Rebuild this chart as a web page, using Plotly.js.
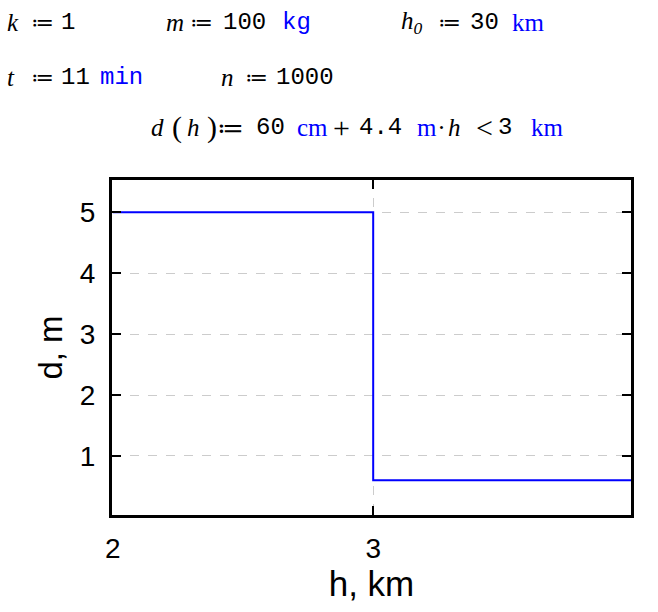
<!DOCTYPE html>
<html>
<head>
<meta charset="utf-8">
<script src="https://cdn.plot.ly/plotly-3.0.1.min.js"></script>
<style>html,body{margin:0;padding:0;background:#fff;}#plot{width:658px;height:612px;}</style>
</head>
<body>
<div id="plot"></div>
<script>
// Data: d(h) = 60 cm + 4.4 m * (h < 3 km)
const h_km = [2, 3, 3, 4];
const d_m = [5, 5, 0.6, 0.6];
const xTicks = [2, 3];
const yTicks = [1, 2, 3, 4, 5];

const W = 658, H = 612;
const M = {l: 112, r: 27, t: 180, b: 97};
const pw = W - M.l - M.r, ph = H - M.t - M.b;

// token styles
const ST = {
  v:  {family:'Liberation Serif', size:25, color:'#000', italic:true},
  n:  {family:'Liberation Mono', size:24, color:'#000'},
  um: {family:'Liberation Mono', size:24, color:'#0000ff'},
  us: {family:'Liberation Serif', size:25, color:'#0000ff'},
  op: {family:'DejaVu Serif', size:22, color:'#000'},
  op2:{family:'DejaVu Serif', size:26, color:'#000'},
  s:  {family:'Liberation Serif', size:30, color:'#000'},
  p:  {family:'Liberation Serif', size:30, color:'#000'}
};
const DEF = '≔';

// [left px, line centre px, text, style]
const tokens = [
  [6, 23, 'k', 'v'], [30, 23, DEF, 'op'], [60, 23, '1', 'n'],
  [165, 23, 'm', 'v'], [189, 23, DEF, 'op'], [222, 23, '100', 'n'], [281, 23, 'kg', 'um'],
  [400, 23, 'h<sub>0</sub>', 'v'], [437, 23, DEF, 'op'], [469, 23, '30', 'n'], [511, 23, 'km', 'us'],
  [6, 77, 't', 'v'], [30, 77, DEF, 'op'], [60, 77, '11', 'n'], [99, 77, 'min', 'um'],
  [220, 77, 'n', 'v'], [244, 77, DEF, 'op'], [275, 77, '1000', 'n'],
  [150, 128, 'd', 'v'], [171, 127, '(', 'p'], [186, 128, 'h', 'v'], [206, 127, ')', 'p'],
  [216, 128, DEF, 'op2'], [255, 128, '60', 'n'], [296, 128, 'cm', 'us'], [332, 127, '+', 's'],
  [358, 128, '4.4', 'n'], [416, 128, 'm', 'us'], [437, 128, '·', 'v'], [447, 128, 'h', 'v'],
  [475, 127, '&lt;', 's'], [497, 128, '3', 'n'], [530, 128, 'km', 'us']
];

const annotations = tokens.map(([px, py, txt, st]) => {
  const f = ST[st];
  const t = f.italic ? '<i>' + txt + '</i>' : txt;
  return {xref:'paper', yref:'paper', x:(px - M.l)/pw, y:(H - M.b - py)/ph,
    xanchor:'left', yanchor:'middle', showarrow:false, text:t, borderpad:0,
    font:{family:f.family, size:f.size, color:f.color}};
});

const trace = {x: h_km, y: d_m, type:'scatter', mode:'lines',
  line:{color:'#0000ff', width:2}, hoverinfo:'none'};

const layout = {
  width: W, height: H, margin: M, showlegend:false,
  paper_bgcolor:'#fff', plot_bgcolor:'#fff',
  font:{family:'Arial, Liberation Sans, sans-serif', color:'#000'},
  xaxis:{range:[1.997, 3.99], tickvals:xTicks, ticktext:xTicks.map(String),
    showline:true, linecolor:'#000', linewidth:3, mirror:'ticks',
    ticks:'inside', ticklen:9, tickwidth:2, tickcolor:'#000',
    showgrid:true, gridcolor:'#cccccc', griddash:'dash', gridwidth:1,
    zeroline:false, tickfont:{size:28}, ticklabelstandoff:6,
    title:{text:'h, km', font:{size:35}, standoff:2}},
  yaxis:{range:[0.03, 5.53], tickvals:yTicks, ticktext:yTicks.map(String),
    showline:true, linecolor:'#000', linewidth:3, mirror:'ticks',
    ticks:'inside', ticklen:9, tickwidth:2, tickcolor:'#000',
    showgrid:true, gridcolor:'#cccccc', griddash:'dash', gridwidth:1,
    zeroline:false, tickfont:{size:28}, ticklabelstandoff:8,
    title:{text:'d, m', font:{size:33}, standoff:8}},
  annotations: annotations
};

Plotly.newPlot('plot', [trace], layout, {staticPlot:true, displayModeBar:false});
</script>
</body>
</html>
